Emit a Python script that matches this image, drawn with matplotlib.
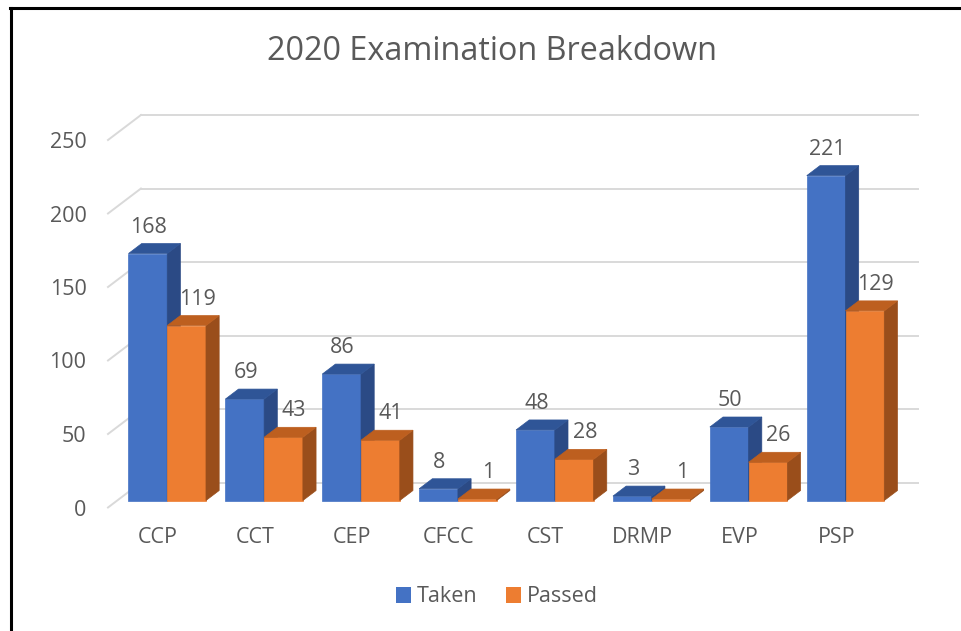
"""2020 examination breakdown - Excel-style 3D clustered columns."""

import matplotlib.pyplot as plt
from matplotlib.patches import Polygon, Patch

plt.rcParams['font.family'] = ['Open Sans', 'DejaVu Sans']

exams = ['CCP', 'CCT', 'CEP', 'CFCC', 'CST', 'DRMP', 'EVP', 'PSP']
taken = [168, 69, 86, 8, 48, 3, 50, 221]
passed = [119, 43, 41, 1, 28, 1, 26, 129]
yticks = [0, 50, 100, 150, 200, 250]

GREY = '#595959'
GRID = '#d9d9d9'
BLUE = ('#4472c4', '#2f5597', '#2b4a85')     # front, top, side
ORANGE = ('#ed7d31', '#bd5f1f', '#9a4e1b')

# pseudo-3D geometry, in data units
DX, DY = 0.34, 17.0          # offset of the back wall
Z0, Z1 = 0.28, 0.68          # depth of bar front/back faces
BW = 0.40                    # width of one bar

W, H = 961, 631
fig = plt.figure(figsize=(W / 100, H / 100), dpi=100)
# front plane: x=0 at px 158, 96.9 px per category; y=0 at py 507.5, 1.47 px per unit
x_lo, x_hi = (108 - 158) / 96.9, (918 - 158) / 96.9
ax = fig.add_axes([108 / W, (H - 507.5) / H, (918 - 108) / W, 250 * 1.47 / H])
ax.set_xlim(x_lo, x_hi)
ax.set_ylim(0, 250)
for s in ax.spines.values():
    s.set_visible(False)
ax.set_yticks(yticks)
ax.set_yticklabels([str(t) for t in yticks])
ax.set_xticks(range(len(exams)))
ax.set_xticklabels(exams)
ax.tick_params(axis='y', length=0, pad=15.5, labelsize=15.5, labelcolor=GREY)
ax.tick_params(axis='x', length=0, pad=14, labelsize=15.5, labelcolor=GREY)

# left wall diagonals + back wall gridlines
for t in yticks:
    ax.plot([x_lo, x_lo + DX], [t, t + DY], color=GRID, lw=1.4,
            clip_on=False, zorder=1)
    ax.plot([x_lo + DX, x_hi], [t + DY, t + DY], color=GRID, lw=1.4,
            clip_on=False, zorder=1)


def bar3d(x0, v, cols):
    fx, fy = x0 + Z0 * DX, Z0 * DY
    bx, by = x0 + Z1 * DX, Z1 * DY
    front = [(fx, fy), (fx + BW, fy), (fx + BW, fy + v), (fx, fy + v)]
    top = [(fx, fy + v), (fx + BW, fy + v), (bx + BW, by + v), (bx, by + v)]
    side = [(fx + BW, fy), (bx + BW, by), (bx + BW, by + v), (fx + BW, fy + v)]
    for pts, c in ((front, cols[0]), (side, cols[2]), (top, cols[1])):
        ax.add_patch(Polygon(pts, closed=True, facecolor=c, edgecolor=c,
                             lw=0.5, clip_on=False, zorder=2))


for i in range(len(exams)):
    bar3d(i - BW, taken[i], BLUE)
    bar3d(i, passed[i], ORANGE)

for i in range(len(exams)):
    ax.text(i - BW / 2 + Z0 * DX + 0.01, taken[i] + Z1 * DY + 4, str(taken[i]),
            ha='center', va='bottom', fontsize=15.5, color=GREY, zorder=5)
    ax.text(i + BW / 2 + Z0 * DX + 0.11, passed[i] + Z1 * DY + 4, str(passed[i]),
            ha='center', va='bottom', fontsize=15.5, color=GREY, zorder=5)

fig.text(492 / W, 1 - 51 / H, '2020 Examination Breakdown', ha='center',
         va='center', fontsize=23.3, color=GREY)

handles = [Patch(facecolor=BLUE[0], label='Taken'),
           Patch(facecolor=ORANGE[0], label='Passed')]
fig.legend(handles=handles, loc='center', bbox_to_anchor=(497 / W, 1 - 597 / H),
           ncol=2, frameon=False, fontsize=15.5, labelcolor=GREY,
           handlelength=0.7, handleheight=0.7, handletextpad=0.3,
           columnspacing=1.3)

# screenshot frame on the left and top edges
fig.add_artist(plt.Line2D([11 / W, 11 / W], [0, 1 - 8 / H], color='black',
                          lw=2.2, transform=fig.transFigure))
fig.add_artist(plt.Line2D([10 / W, 1], [1 - 8 / H, 1 - 8 / H], color='black',
                          lw=2.2, transform=fig.transFigure))

fig.savefig('out.png', dpi=100)
